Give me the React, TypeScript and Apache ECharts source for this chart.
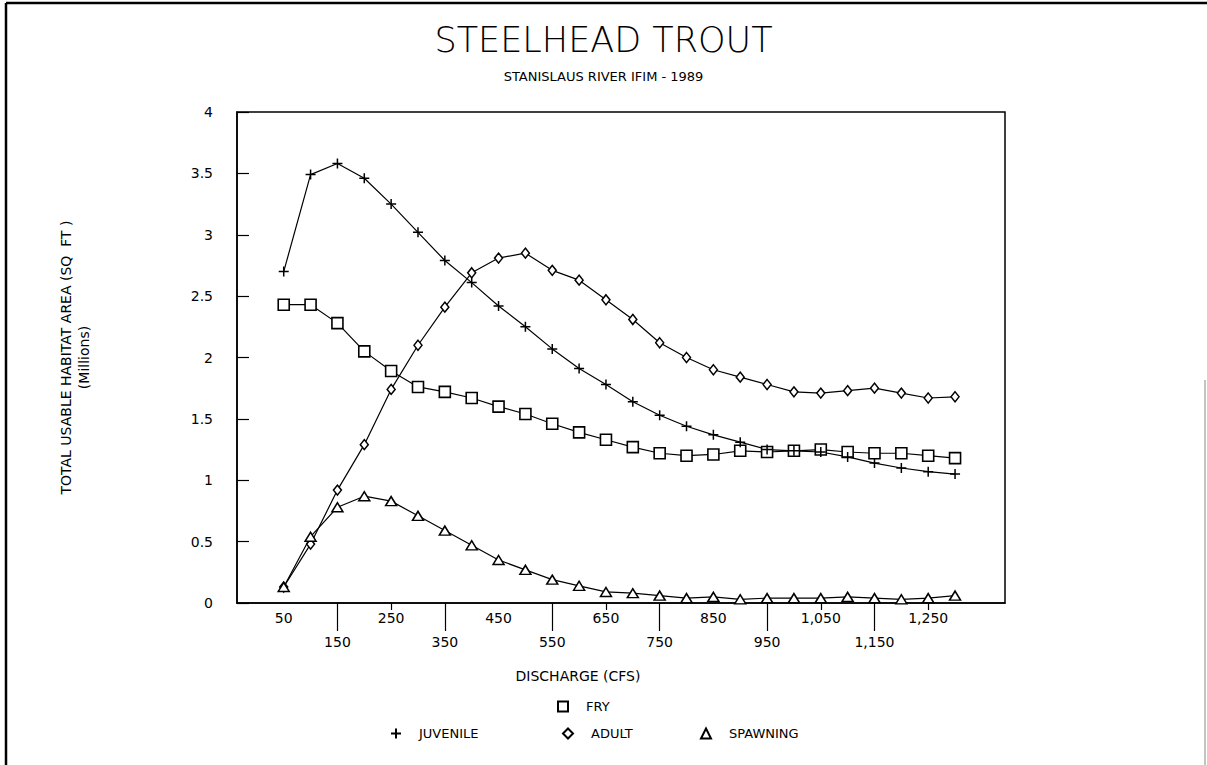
import React, { useEffect, useRef } from 'react';
import * as echarts from 'echarts';

const discharge = [50, 100, 150, 200, 250, 300, 350, 400, 450, 500, 550, 600, 650, 700, 750, 800, 850, 900, 950, 1000, 1050, 1100, 1150, 1200, 1250, 1300];
const fry = [2.43, 2.43, 2.28, 2.05, 1.89, 1.76, 1.72, 1.67, 1.6, 1.54, 1.46, 1.39, 1.33, 1.27, 1.22, 1.2, 1.21, 1.24, 1.23, 1.24, 1.25, 1.23, 1.22, 1.22, 1.2, 1.18];
const juvenile = [2.7, 3.49, 3.58, 3.46, 3.25, 3.02, 2.79, 2.61, 2.42, 2.25, 2.07, 1.91, 1.78, 1.64, 1.53, 1.44, 1.37, 1.31, 1.25, 1.24, 1.23, 1.19, 1.14, 1.1, 1.07, 1.05];
const adult = [0.13, 0.48, 0.92, 1.29, 1.74, 2.1, 2.41, 2.69, 2.81, 2.85, 2.71, 2.63, 2.47, 2.31, 2.12, 2.0, 1.9, 1.84, 1.78, 1.72, 1.71, 1.73, 1.75, 1.71, 1.67, 1.68];
const spawning = [0.13, 0.54, 0.78, 0.87, 0.83, 0.71, 0.59, 0.47, 0.35, 0.27, 0.19, 0.14, 0.09, 0.08, 0.06, 0.04, 0.05, 0.03, 0.04, 0.04, 0.04, 0.05, 0.04, 0.03, 0.04, 0.06];

const labelRowOne = [50, 250, 450, 650, 850, 1050, 1250];
const labelRowTwo = [150, 350, 550, 750, 950, 1150];
const shortTicks = [250, 650, 1050, 1250];

const FONT = '"DejaVu Sans", sans-serif';
const PLUS = 'path://M0,5L10,5M5,0L5,10';

function fmt(v: number): string {
  if (v >= 1000) {
    return `${Math.floor(v / 1000)},${String(v % 1000).padStart(3, '0')}`;
  }
  return String(v);
}

function pairs(ys: number[]) {
  return discharge.map((x, i) => [x, ys[i]]);
}

function legendItem(name: string, icon: string, left: number, top: number) {
  return {
    data: [{ name, icon }],
    left,
    top,
    itemWidth: 10,
    itemHeight: 10,
    textStyle: { fontFamily: FONT, fontSize: 13, color: '#000', padding: [0, 0, 0, 13] },
    selectedMode: false,
  };
}

export default function App() {
  const ref = useRef<HTMLDivElement>(null);

  useEffect(() => {
    if (!ref.current) return;
    const chart = echarts.init(ref.current, null, { renderer: 'svg' });
    const lineBase = {
      type: 'line' as const,
      xAxisIndex: 0,
      yAxisIndex: 0,
      lineStyle: { color: '#000', width: 1.2 },
      emphasis: { disabled: true },
    };
    chart.setOption({
      animation: false,
      backgroundColor: '#fff',
      title: [
        {
          text: 'STEELHEAD TROUT',
          left: 'center',
          top: 17,
          textStyle: { fontFamily: FONT, fontSize: 35, fontWeight: 200, color: '#000' },
        },
        {
          text: 'STANISLAUS RIVER IFIM - 1989',
          left: 'center',
          top: 65,
          textStyle: { fontFamily: FONT, fontSize: 13, fontWeight: 'normal', color: '#000' },
        },
      ],
      grid: {
        left: 237,
        top: 112,
        width: 768,
        height: 491,
        show: true,
        borderColor: '#000',
        borderWidth: 1.5,
        backgroundColor: 'transparent',
      },
      legend: [
        legendItem('FRY', 'rect', 552, 695),
        legendItem('JUVENILE', PLUS, 385, 722),
        legendItem('ADULT', 'diamond', 557, 722),
        legendItem('SPAWNING', 'triangle', 695, 722),
      ],
      xAxis: [
        {
          type: 'value',
          min: -37,
          max: 1393,
          position: 'bottom',
          name: 'DISCHARGE (CFS)',
          nameLocation: 'middle',
          nameGap: 66,
          nameTextStyle: { fontFamily: FONT, fontSize: 14, color: '#000', padding: [0, 86, 0, 0] },
          axisLine: { show: true, onZero: false, lineStyle: { color: '#000', width: 1.5 } },
          axisTick: { show: true, customValues: shortTicks, length: 7, lineStyle: { color: '#000', width: 1.2 } },
          axisLabel: {
            customValues: labelRowOne,
            formatter: (v: number) => fmt(v),
            margin: 8,
            fontFamily: FONT,
            fontSize: 14,
            color: '#000',
          },
          splitLine: { show: false },
        },
        {
          type: 'value',
          min: -37,
          max: 1393,
          position: 'bottom',
          offset: 0,
          axisLine: { show: false, onZero: false },
          axisTick: { show: true, customValues: labelRowTwo, length: 28, lineStyle: { color: '#000', width: 1.2 } },
          axisLabel: {
            customValues: labelRowTwo,
            formatter: (v: number) => fmt(v),
            margin: 32,
            fontFamily: FONT,
            fontSize: 14,
            color: '#000',
          },
          splitLine: { show: false },
        },
      ],
      yAxis: {
        type: 'value',
        min: 0,
        max: 4,
        interval: 0.5,
        name: 'TOTAL USABLE HABITAT AREA (SQ  FT )\n(Millions)',
        nameLocation: 'middle',
        nameRotate: 90,
        nameGap: 144,
        nameTextStyle: { fontFamily: FONT, fontSize: 14, color: '#000', lineHeight: 18, align: 'center', padding: [0, 0, 0, 0] },
        axisLine: { show: true, onZero: false, lineStyle: { color: '#000', width: 1.5 } },
        axisTick: { show: true, inside: true, length: 12, lineStyle: { color: '#000', width: 1.2 } },
        axisLabel: { margin: 24, fontFamily: FONT, fontSize: 14, color: '#000' },
        splitLine: { show: false },
      },
      graphic: [
        { type: 'line', shape: { x1: 6, y1: 3, x2: 1207, y2: 3 }, style: { stroke: '#000', lineWidth: 2.5 } },
        { type: 'line', shape: { x1: 6, y1: 3, x2: 6, y2: 765 }, style: { stroke: '#000', lineWidth: 2.5 } },
        { type: 'line', shape: { x1: 1205, y1: 380, x2: 1205, y2: 765 }, style: { stroke: '#888', lineWidth: 1 } },
      ],
      series: [
        {
          ...lineBase,
          name: 'FRY',
          data: pairs(fry),
          symbol: 'rect',
          symbolSize: 11,
          itemStyle: { color: '#fff', borderColor: '#000', borderWidth: 1.6 },
        },
        {
          ...lineBase,
          name: 'JUVENILE',
          data: pairs(juvenile),
          symbol: PLUS,
          symbolSize: 10,
          itemStyle: { color: '#000', borderColor: '#000', borderWidth: 1.5 },
        },
        {
          ...lineBase,
          name: 'ADULT',
          data: pairs(adult),
          symbol: 'diamond',
          symbolSize: [8, 10],
          itemStyle: { color: '#fff', borderColor: '#000', borderWidth: 1.5 },
        },
        {
          ...lineBase,
          name: 'SPAWNING',
          data: pairs(spawning),
          symbol: 'triangle',
          symbolSize: [11, 9],
          itemStyle: { color: '#fff', borderColor: '#000', borderWidth: 1.5 },
        },
      ],
    });
    return () => chart.dispose();
  }, []);

  return (
    <div
      ref={ref}
      style={{ position: 'absolute', left: 0, top: 0, width: 1207, height: 765, background: '#fff' }}
    />
  );
}
